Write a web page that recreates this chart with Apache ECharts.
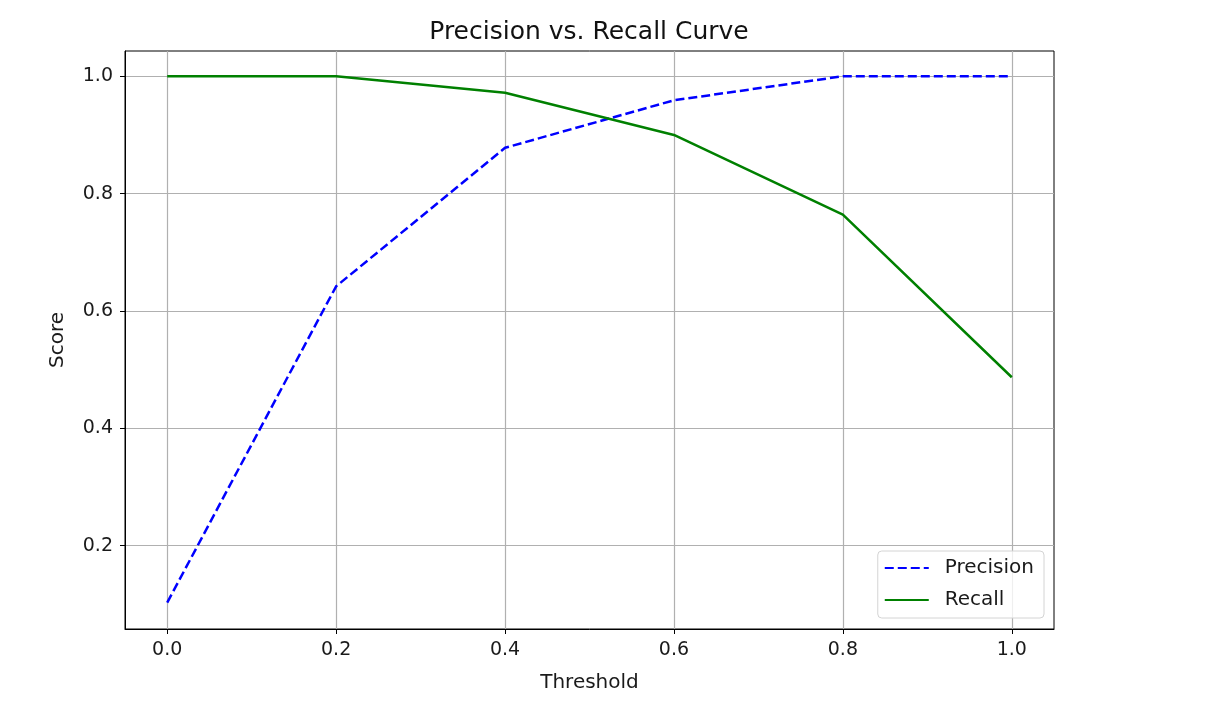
<!DOCTYPE html>
<html>
<head>
<meta charset="utf-8">
<script src="https://cdn.jsdelivr.net/npm/echarts@6/dist/echarts.min.js"></script>
<style>
  html, body { margin: 0; padding: 0; background: #fff; }
  #chart { width: 1206px; height: 702px; }
</style>
</head>
<body>
<div id="chart"></div>
<script>
// thresholds and scores
var thresholds = [0.0, 0.2, 0.4, 0.6, 0.8, 1.0];
var precision = [0.103, 0.642, 0.878, 0.959, 1.0, 1.0];
var recall = [1.0, 1.0, 0.972, 0.900, 0.764, 0.487];
var xTicks = [0.0, 0.2, 0.4, 0.6, 0.8, 1.0];
var yTicks = [0.2, 0.4, 0.6, 0.8, 1.0];

function pairs(xs, ys) {
    return xs.map(function (x, i) { return [x, ys[i]]; });
}

var font = 'DejaVu Sans';
var chart = echarts.init(document.getElementById('chart'));

chart.setOption({
    animation: false,
    title: {
        text: 'Precision vs. Recall Curve',
        left: 584,
        textAlign: 'center',
        top: 15,
        textStyle: { fontFamily: font, fontSize: 25, fontWeight: 'normal', color: '#111' }
    },
    grid: {
        left: 125, right: 152, top: 51, bottom: 73,
        show: true, borderColor: '#000', borderWidth: 1, backgroundColor: '#fff'
    },
    legend: {
        right: 162, bottom: 84,
        orient: 'vertical',
        data: ['Precision', 'Recall'],
        itemWidth: 44, itemHeight: 20, itemGap: 12,
        padding: [7, 10, 8, 6],
        borderColor: '#d4d4d4', borderWidth: 1, borderRadius: 4,
        backgroundColor: 'rgba(255,255,255,0.8)',
        itemStyle: { opacity: 0 },
        textStyle: { fontFamily: font, fontSize: 20, color: '#1a1a1a', padding: [0, 0, 0, 11] }
    },
    xAxis: {
        type: 'value',
        min: -0.05, max: 1.05,
        name: 'Threshold',
        nameLocation: 'middle',
        nameGap: 44,
        nameTextStyle: { fontFamily: font, fontSize: 20, color: '#1a1a1a' },
        axisLine: { show: true, onZero: false, lineStyle: { color: '#000' } },
        axisTick: { show: true, length: 5, customValues: xTicks, lineStyle: { color: '#000' } },
        axisLabel: {
            customValues: xTicks, margin: 12,
            fontFamily: font, fontSize: 19, color: '#1a1a1a',
            formatter: function (v) { return v.toFixed(1); }
        },
        splitLine: { show: true, lineStyle: { color: '#b0b0b0', width: 1.2 } }
    },
    yAxis: {
        type: 'value',
        min: 0.058, max: 1.043,
        name: 'Score',
        nameLocation: 'middle',
        nameGap: 57,
        nameTextStyle: { fontFamily: font, fontSize: 20, color: '#1a1a1a' },
        axisLine: { show: true, onZero: false, lineStyle: { color: '#000' } },
        axisTick: { show: true, length: 5, customValues: yTicks, lineStyle: { color: '#000' } },
        axisLabel: {
            customValues: yTicks, margin: 12,
            fontFamily: font, fontSize: 19, color: '#1a1a1a',
            formatter: function (v) { return v.toFixed(1); }
        },
        splitLine: { show: true, lineStyle: { color: '#b0b0b0', width: 1.2 } }
    },
    series: [
        {
            name: 'Precision',
            type: 'line',
            data: pairs(thresholds, precision),
            symbol: 'none',
            color: '#0000ff',
            lineStyle: { color: '#0000ff', width: 2.5, type: [9, 4] }
        },
        {
            name: 'Recall',
            type: 'line',
            data: pairs(thresholds, recall),
            symbol: 'none',
            color: '#008000',
            lineStyle: { color: '#008000', width: 2.5 }
        }
    ]
});
</script>
</body>
</html>
